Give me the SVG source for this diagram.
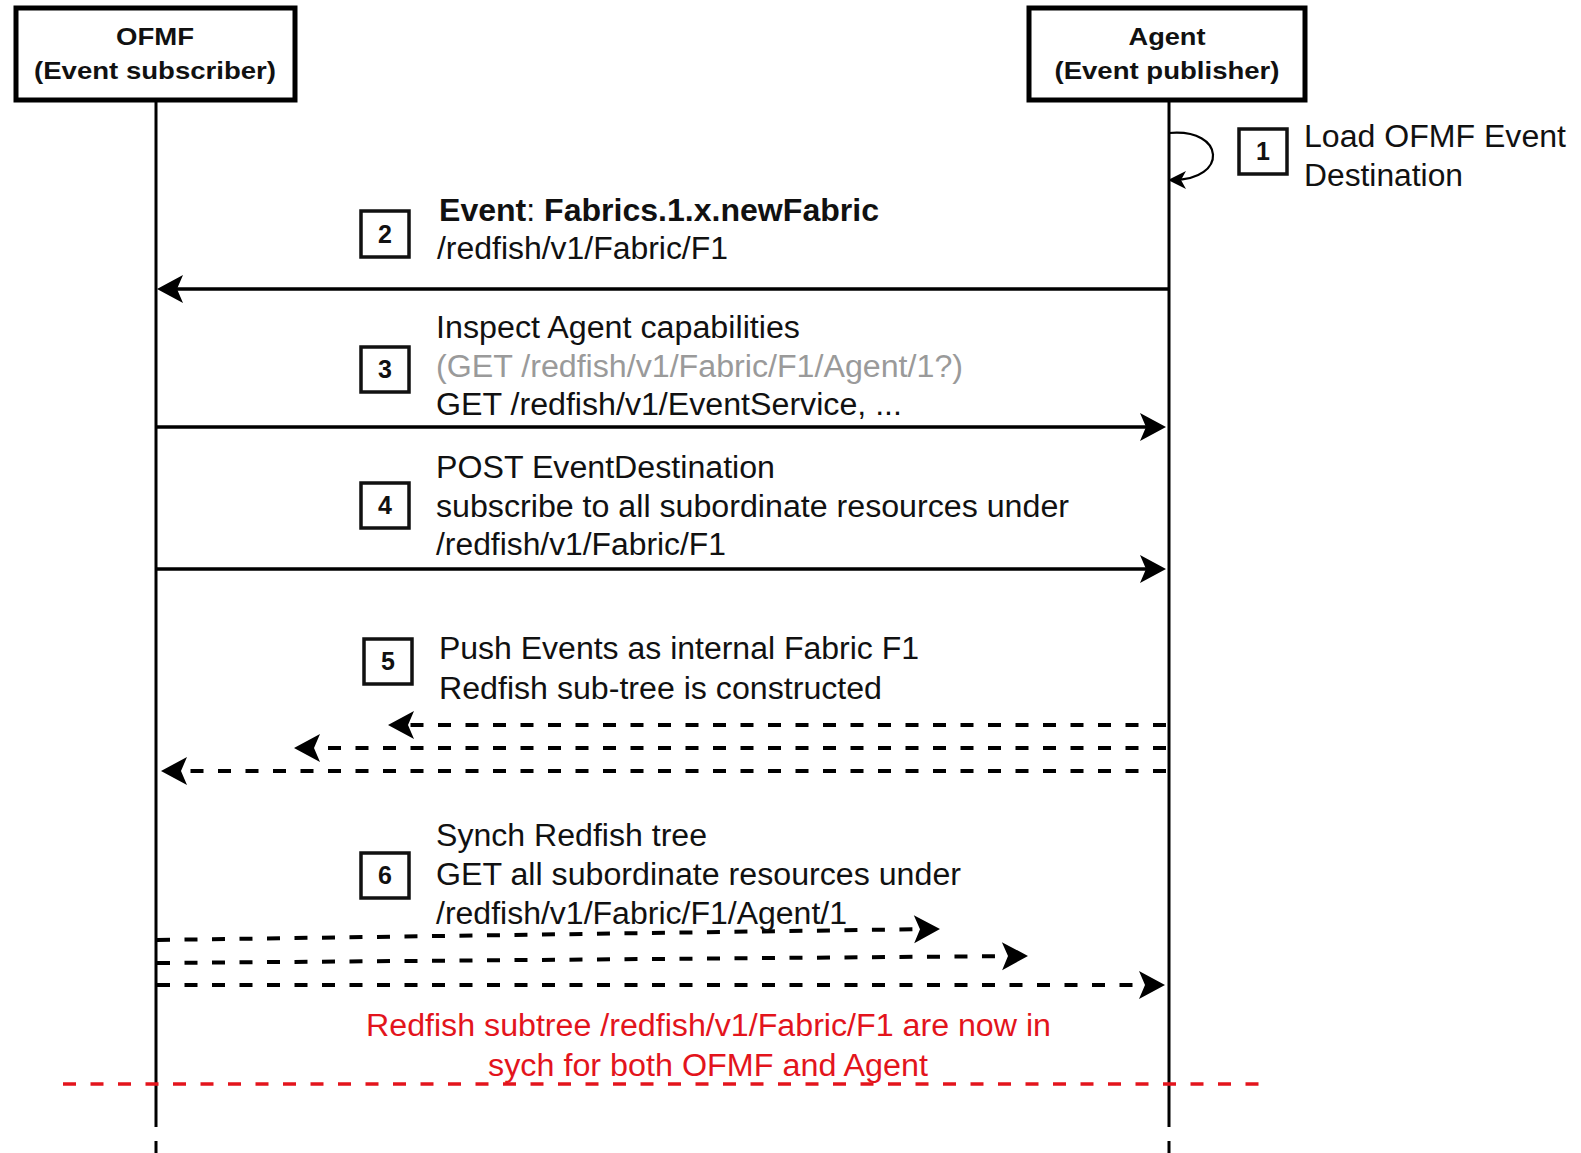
<svg xmlns="http://www.w3.org/2000/svg" width="1581" height="1153" viewBox="0 0 1581 1153">
<style>
.t{font-family:"Liberation Sans",Arial,Helvetica,sans-serif;font-size:31px;fill:#111}
.h{font-family:"Liberation Sans",Arial,Helvetica,sans-serif;font-size:24px;font-weight:bold;fill:#111}
.n{font-family:"Liberation Sans",Arial,Helvetica,sans-serif;font-size:25px;font-weight:bold;fill:#111}
.b{font-weight:bold}
.g{fill:#9a9a9a}
.r{fill:#e3141c}
.actor{fill:#fff;stroke:#000;stroke-width:5}
.num{fill:#fff;stroke:#111;stroke-width:3.5}
.life{stroke:#000;stroke-width:3;fill:none}
.msg{stroke:#000;stroke-width:3.5;fill:none}
.dash{stroke:#000;stroke-width:4;fill:none;stroke-dasharray:13 14.5}
.red{stroke:#e3141c;stroke-width:3.5;fill:none;stroke-dasharray:13 14.5}
</style>
<defs>
<marker id="ah" markerUnits="userSpaceOnUse" markerWidth="30" markerHeight="30" viewBox="0 0 30 30" refX="19" refY="14" orient="auto">
<path d="M1,0 L27,14 L1,28 L7,14 Z" fill="#000"/>
</marker>
<marker id="ahs" markerUnits="userSpaceOnUse" markerWidth="20" markerHeight="20" viewBox="0 0 20 20" refX="13" refY="9" orient="auto">
<path d="M0,0 L18,9 L0,18 L5,9 Z" fill="#000"/>
</marker>
</defs>

<g id="lifelines">
<path class="life" d="M156,102 V1127 M156,1141 V1153"/>
<path class="life" d="M1169,102 V1127 M1169,1141 V1153"/>
</g>

<g id="ofmf">
<rect class="actor" x="16" y="8" width="279" height="92"/>
<text class="h" x="155" y="45" text-anchor="middle" textLength="78" lengthAdjust="spacingAndGlyphs">OFMF</text>
<text class="h" x="155" y="79" text-anchor="middle" textLength="242" lengthAdjust="spacingAndGlyphs">(Event subscriber)</text>
</g>

<g id="agent">
<rect class="actor" x="1029" y="8" width="276" height="92"/>
<text class="h" x="1167" y="45" text-anchor="middle" textLength="77" lengthAdjust="spacingAndGlyphs">Agent</text>
<text class="h" x="1167" y="79" text-anchor="middle" textLength="225" lengthAdjust="spacingAndGlyphs">(Event publisher)</text>
</g>

<g id="connectors">
<path d="M1169,133 C1226,128 1228,180 1173,180" stroke="#000" stroke-width="2.2" fill="none" marker-end="url(#ahs)"/>
<line class="msg" x1="1169" y1="289" x2="165" y2="289" marker-end="url(#ah)"/>
<line class="msg" x1="156" y1="427" x2="1158" y2="427" marker-end="url(#ah)"/>
<line class="msg" x1="156" y1="569" x2="1158" y2="569" marker-end="url(#ah)"/>
<line class="dash" x1="1166" y1="725" x2="396" y2="725" marker-end="url(#ah)"/>
<line class="dash" x1="1166" y1="748" x2="302" y2="748" marker-end="url(#ah)"/>
<line class="dash" x1="1166" y1="771" x2="169" y2="771" marker-end="url(#ah)"/>
<line class="dash" x1="157" y1="940" x2="932" y2="929" marker-end="url(#ah)"/>
<line class="dash" x1="157" y1="963" x2="1020" y2="956" marker-end="url(#ah)"/>
<line class="dash" x1="157" y1="985" x2="1157" y2="985" marker-end="url(#ah)"/>
<line class="red" x1="63" y1="1084" x2="1260" y2="1084"/>
</g>

<g id="step1">
<rect class="num" x="1239" y="129" width="48" height="45"/>
<text class="n" x="1263" y="160" text-anchor="middle">1</text>
<text class="t" x="1304" y="147" textLength="262" lengthAdjust="spacingAndGlyphs">Load OFMF Event</text>
<text class="t" x="1304" y="186" textLength="159" lengthAdjust="spacingAndGlyphs">Destination</text>
</g>

<g id="step2">
<rect class="num" x="361" y="211" width="48" height="46"/>
<text class="n" x="385" y="243" text-anchor="middle">2</text>
<text class="t" x="439" y="221" textLength="440" lengthAdjust="spacingAndGlyphs"><tspan class="b">Event</tspan>: <tspan class="b">Fabrics.1.x.newFabric</tspan></text>
<text class="t" x="437" y="259" textLength="291" lengthAdjust="spacingAndGlyphs">/redfish/v1/Fabric/F1</text>
</g>

<g id="step3">
<rect class="num" x="361" y="347" width="48" height="45"/>
<text class="n" x="385" y="378" text-anchor="middle">3</text>
<text class="t" x="436" y="338" textLength="364" lengthAdjust="spacingAndGlyphs">Inspect Agent capabilities</text>
<text class="t g" x="436" y="377" textLength="527" lengthAdjust="spacingAndGlyphs">(GET /redfish/v1/Fabric/F1/Agent/1?)</text>
<text class="t" x="436" y="415" textLength="466" lengthAdjust="spacingAndGlyphs">GET /redfish/v1/EventService, ...</text>
</g>

<g id="step4">
<rect class="num" x="361" y="483" width="48" height="45"/>
<text class="n" x="385" y="514" text-anchor="middle">4</text>
<text class="t" x="436" y="478" textLength="339" lengthAdjust="spacingAndGlyphs">POST EventDestination</text>
<text class="t" x="436" y="517" textLength="633" lengthAdjust="spacingAndGlyphs">subscribe to all subordinate resources under</text>
<text class="t" x="436" y="555" textLength="290" lengthAdjust="spacingAndGlyphs">/redfish/v1/Fabric/F1</text>
</g>

<g id="step5">
<rect class="num" x="364" y="639" width="48" height="45"/>
<text class="n" x="388" y="670" text-anchor="middle">5</text>
<text class="t" x="439" y="659" textLength="480" lengthAdjust="spacingAndGlyphs">Push Events as internal Fabric F1</text>
<text class="t" x="439" y="699" textLength="443" lengthAdjust="spacingAndGlyphs">Redfish sub-tree is constructed</text>
</g>

<g id="step6">
<rect class="num" x="361" y="853" width="48" height="45"/>
<text class="n" x="385" y="884" text-anchor="middle">6</text>
<text class="t" x="436" y="846" textLength="271" lengthAdjust="spacingAndGlyphs">Synch Redfish tree</text>
<text class="t" x="436" y="885" textLength="525" lengthAdjust="spacingAndGlyphs">GET all subordinate resources under</text>
<text class="t" x="436" y="924" textLength="411" lengthAdjust="spacingAndGlyphs">/redfish/v1/Fabric/F1/Agent/1</text>
</g>

<g id="note">
<text class="t r" x="366" y="1036" textLength="685" lengthAdjust="spacingAndGlyphs">Redfish subtree /redfish/v1/Fabric/F1 are now in</text>
<text class="t r" x="708" y="1076" text-anchor="middle" textLength="440" lengthAdjust="spacingAndGlyphs">sych for both OFMF and Agent</text>
</g>
</svg>
